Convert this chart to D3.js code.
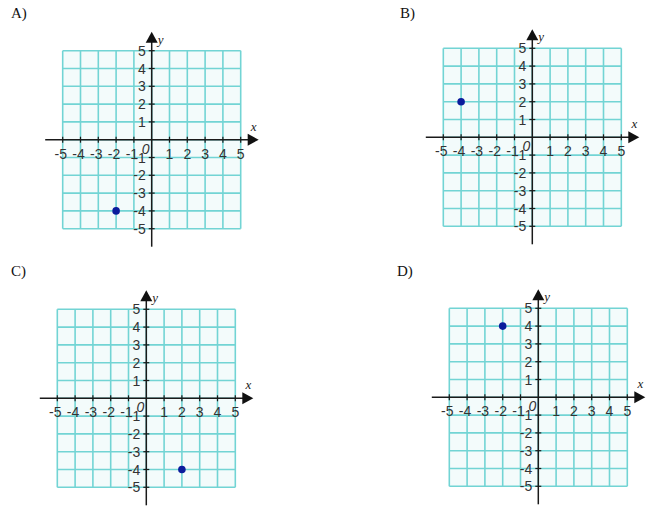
<!DOCTYPE html>
<html>
<head>
<meta charset="utf-8">
<script src="https://cdn.jsdelivr.net/npm/d3@7"></script>
<style>
  body { margin: 0; background: #fff; }
  svg { display: block; }
</style>
</head>
<body>
<svg width="650" height="508"></svg>
<script>
// answer choices and the single point plotted in each
const panelNames = ["A)", "B)", "C)", "D)"];
const pointX = [-2, -4, 2, -2];
const pointY = [-4, 2, -4, 4];
const tickValues = [-5, -4, -3, -2, -1, 1, 2, 3, 4, 5];
const gridValues = [-5, -4, -3, -2, -1, 0, 1, 2, 3, 4, 5];

// where each panel's grid sits on the page, and where its letter goes
const layout = [
  { left: 62.7, top: 50.7, titleX: 11, titleY: 18 },
  { left: 443.3, top: 48.3, titleX: 400, titleY: 18 },
  { left: 57.3, top: 309.3, titleX: 11, titleY: 276 },
  { left: 449.3, top: 308.3, titleX: 397, titleY: 276 }
];
const size = 178;

const svg = d3.select("svg");

panelNames.forEach((name, i) => {
  const L = layout[i];
  const x = d3.scaleLinear().domain([-5, 5]).range([L.left, L.left + size]);
  const y = d3.scaleLinear().domain([-5, 5]).range([L.top + size, L.top]);
  const g = svg.append("g");

  g.append("text")
    .attr("x", L.titleX)
    .attr("y", L.titleY)
    .style("font-family", "'Liberation Serif', 'Times New Roman', serif")
    .style("font-size", "15px")
    .attr("fill", "#111")
    .text(name);

  // grid background and lines
  g.append("rect")
    .attr("x", x(-5)).attr("y", y(5))
    .attr("width", x(5) - x(-5)).attr("height", y(-5) - y(5))
    .attr("fill", "#f3fbfb");

  g.selectAll(".gv")
    .data(gridValues)
    .join("line")
    .attr("x1", d => x(d)).attr("x2", d => x(d))
    .attr("y1", y(5)).attr("y2", y(-5))
    .attr("stroke", "#72d4d4")
    .attr("stroke-width", 1.6);

  g.selectAll(".gh")
    .data(gridValues)
    .join("line")
    .attr("x1", x(-5)).attr("x2", x(5))
    .attr("y1", d => y(d)).attr("y2", d => y(d))
    .attr("stroke", "#72d4d4")
    .attr("stroke-width", 1.6);

  const ox = x(0), oy = y(0);

  // axes
  g.append("line")
    .attr("x1", x(-5) - 17.5).attr("x2", x(5) + 9)
    .attr("y1", oy).attr("y2", oy)
    .attr("stroke", "#1a1a1a").attr("stroke-width", 1.5);
  g.append("path")
    .attr("d", `M${x(5) + 18},${oy} L${x(5) + 7},${oy - 6} L${x(5) + 7},${oy + 6} Z`)
    .attr("fill", "#111");

  g.append("line")
    .attr("x1", ox).attr("x2", ox)
    .attr("y1", y(5) - 9).attr("y2", y(-5) + 18)
    .attr("stroke", "#1a1a1a").attr("stroke-width", 1.5);
  g.append("path")
    .attr("d", `M${ox},${y(5) - 19} L${ox - 6},${y(5) - 8} L${ox + 6},${y(5) - 8} Z`)
    .attr("fill", "#111");

  // tick marks
  g.selectAll(".tx")
    .data(tickValues)
    .join("line")
    .attr("x1", d => x(d)).attr("x2", d => x(d))
    .attr("y1", oy - 3).attr("y2", oy + 3)
    .attr("stroke", "#1a1a1a").attr("stroke-width", 1.2);
  g.selectAll(".ty")
    .data(tickValues)
    .join("line")
    .attr("x1", ox - 3).attr("x2", ox + 3)
    .attr("y1", d => y(d)).attr("y2", d => y(d))
    .attr("stroke", "#1a1a1a").attr("stroke-width", 1.2);

  const labelFont = "'Liberation Sans', Arial, sans-serif";

  g.selectAll(".lx")
    .data(tickValues)
    .join("text")
    .attr("x", d => x(d) - (d < 0 ? 2 : 0))
    .attr("y", oy + 19)
    .attr("text-anchor", "middle")
    .style("font-family", labelFont)
    .style("font-size", "14px")
    .attr("fill", "#333")
    .text(d => d);

  g.selectAll(".ly")
    .data(tickValues)
    .join("text")
    .attr("x", ox - 6)
    .attr("y", d => y(d))
    .attr("dy", "0.36em")
    .attr("text-anchor", "end")
    .style("font-family", labelFont)
    .style("font-size", "14px")
    .attr("fill", "#333")
    .text(d => d);

  g.append("text")
    .attr("x", ox - 6)
    .attr("y", oy + 14)
    .attr("text-anchor", "middle")
    .style("font-family", labelFont)
    .style("font-size", "14px")
    .style("font-style", "italic")
    .attr("fill", "#333")
    .text("0");

  // axis names
  const nameFont = "'Liberation Serif', 'Times New Roman', serif";
  g.append("text")
    .attr("x", x(5) + 13)
    .attr("y", oy - 9)
    .attr("text-anchor", "middle")
    .style("font-family", nameFont)
    .style("font-size", "13px")
    .style("font-style", "italic")
    .attr("fill", "#222")
    .text("x");
  g.append("text")
    .attr("x", ox + 6)
    .attr("y", y(5) - 7)
    .style("font-family", nameFont)
    .style("font-size", "13px")
    .style("font-style", "italic")
    .attr("fill", "#222")
    .text("y");

  // the plotted point
  g.append("circle")
    .attr("cx", x(pointX[i]))
    .attr("cy", y(pointY[i]))
    .attr("r", 3.8)
    .attr("fill", "#0b1c9c");
});
</script>
</body>
</html>
